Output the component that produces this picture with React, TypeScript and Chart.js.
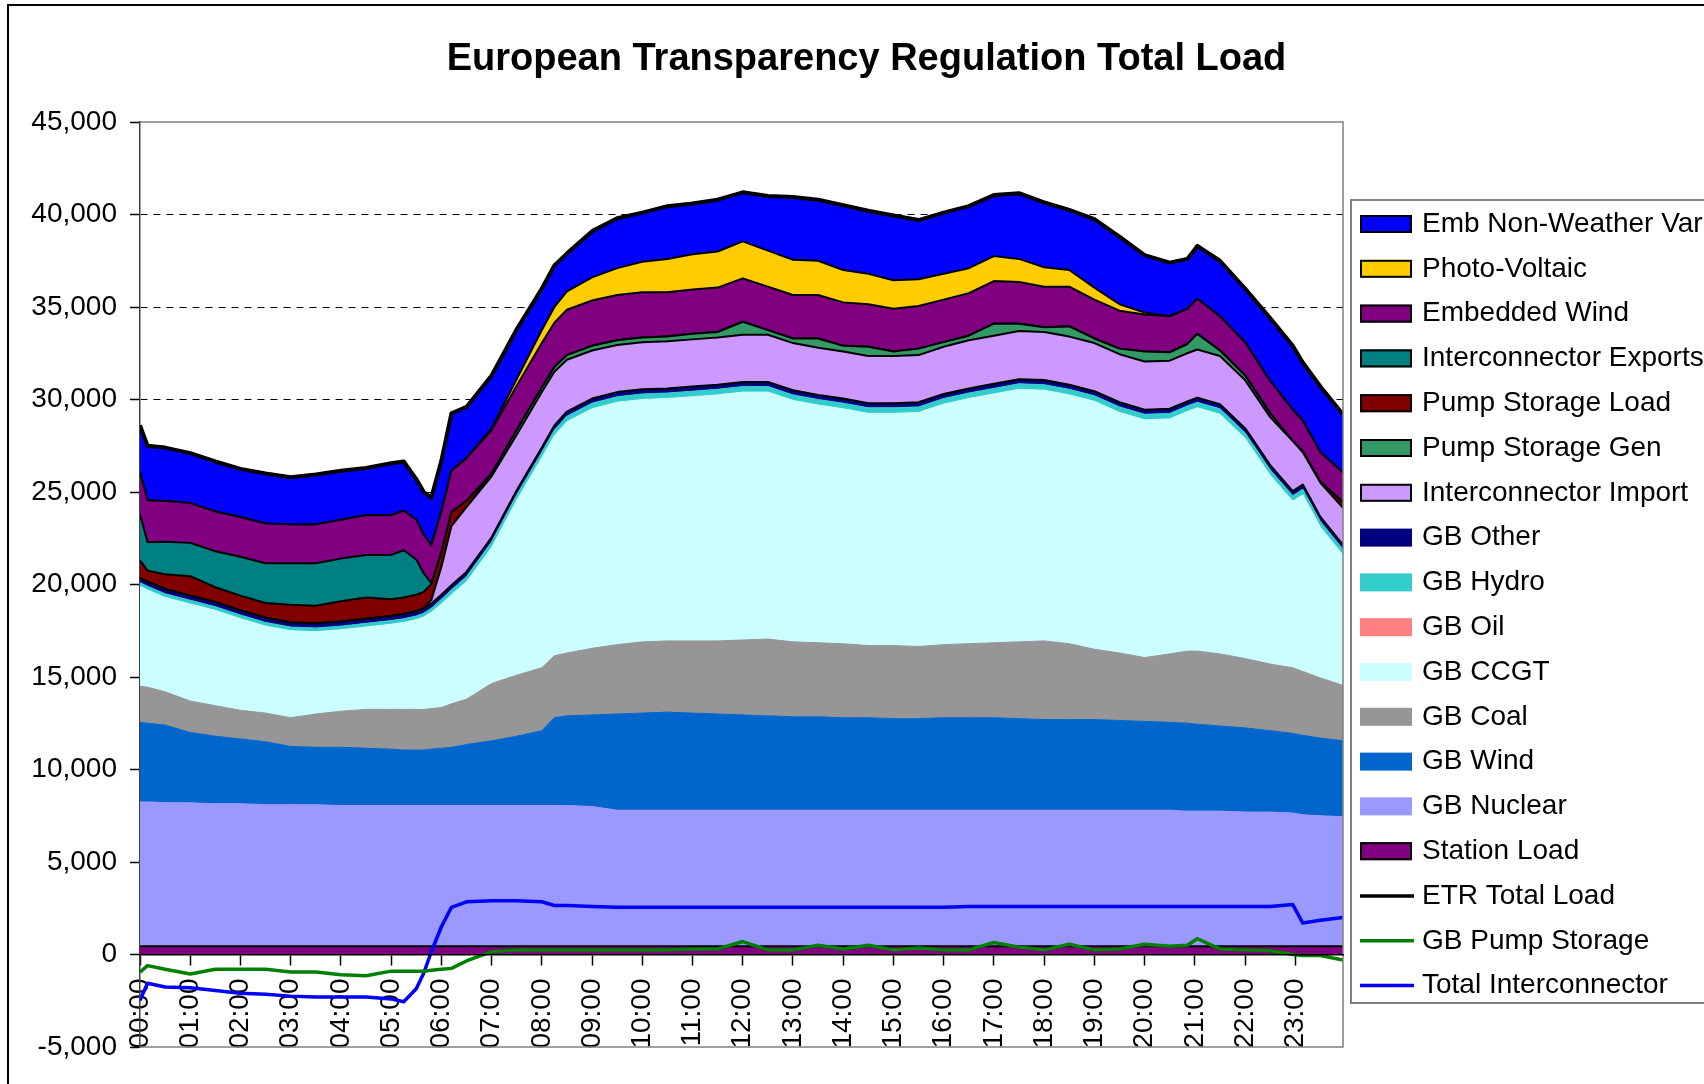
import { useEffect, useRef } from 'react';
import { Chart, registerables } from 'chart.js';

Chart.register(...registerables);

// ---------------- data (MW) ----------------
// time of day in hours
const times = [
  0, 0.15, 0.5, 1, 1.5, 2, 2.5, 3, 3.5, 4,
  4.5, 5, 5.25, 5.5, 5.65, 5.8, 6, 6.2, 6.5, 7,
  7.5, 8, 8.25, 8.5, 9, 9.5, 10, 10.5, 11, 11.5,
  12, 12.5, 13, 13.5, 14, 14.5, 15, 15.5, 16, 16.5,
  17, 17.5, 18, 18.5, 19, 19.5, 20, 20.5, 20.85, 21.05,
  21.5, 22, 22.5, 22.95, 23.15, 23.5, 23.95,
];

const hourTicks = [0, 1, 2, 3, 4, 5, 6, 7, 8, 9, 10, 11, 12, 13, 14, 15, 16, 17, 18, 19, 20, 21, 22, 23];
const hourLabels = [
  '00:00', '01:00', '02:00', '03:00', '04:00', '05:00', '06:00', '07:00',
  '08:00', '09:00', '10:00', '11:00', '12:00', '13:00', '14:00', '15:00',
  '16:00', '17:00', '18:00', '19:00', '20:00', '21:00', '22:00', '23:00',
];

const stationLoad = [
  450, 450, 450, 450, 450, 450, 450, 450, 450, 450,
  450, 450, 450, 450, 450, 450, 450, 450, 450, 450,
  450, 450, 450, 450, 450, 450, 450, 450, 450, 450,
  450, 450, 450, 450, 450, 450, 450, 450, 450, 450,
  450, 450, 450, 450, 450, 450, 450, 450, 450, 450,
  450, 450, 450, 450, 450, 450, 450,
];

// upper edge of the GB Nuclear band
const nuclearTop = [
  8250, 8250, 8200, 8200, 8150, 8150, 8100, 8100, 8100, 8050,
  8050, 8050, 8050, 8050, 8050, 8050, 8050, 8050, 8050, 8050,
  8050, 8050, 8050, 8050, 8000, 7800, 7800, 7800, 7800, 7800,
  7800, 7800, 7800, 7800, 7800, 7800, 7800, 7800, 7800, 7800,
  7800, 7800, 7800, 7800, 7800, 7800, 7800, 7800, 7750, 7750,
  7750, 7700, 7700, 7650, 7550, 7500, 7450,
];

// upper edge of the GB Wind band
const windTop = [
  12550, 12500, 12400, 12000, 11800, 11650, 11500, 11250, 11200, 11200,
  11150, 11100, 11050, 11050, 11050, 11100, 11150, 11200, 11350, 11550,
  11800, 12100, 12800, 12900, 12950, 13000, 13050, 13100, 13050, 13000,
  12950, 12900, 12850, 12850, 12800, 12800, 12750, 12750, 12800, 12800,
  12800, 12750, 12700, 12700, 12700, 12650, 12600, 12550, 12500, 12450,
  12350, 12250, 12100, 11950, 11850, 11700, 11550,
];

// upper edge of the GB Coal band
const coalTop = [
  14500, 14450, 14200, 13700, 13450, 13200, 13050, 12800, 13000, 13150,
  13250, 13250, 13250, 13250, 13250, 13300, 13350, 13550, 13800, 14650,
  15100, 15500, 16150, 16300, 16550, 16750, 16900, 16950, 16950, 16950,
  17000, 17050, 16900, 16850, 16800, 16700, 16700, 16650, 16750, 16800,
  16850, 16900, 16950, 16800, 16500, 16300, 16050, 16250, 16400, 16400,
  16250, 16000, 15700, 15500, 15300, 14950, 14550,
];

// upper edge of the GB CCGT band
const ccgtTop = [
  19900, 19700, 19300, 18950, 18600, 18150, 17750, 17500, 17450, 17550,
  17700, 17850, 17950, 18100, 18250, 18500, 18950, 19450, 20150, 22000,
  24550, 26850, 28050, 28800, 29500, 29850, 30000, 30050, 30150, 30250,
  30400, 30400, 29950, 29700, 29500, 29250, 29250, 29300, 29750, 30050,
  30300, 30550, 30500, 30250, 29900, 29300, 28900, 28950, 29350, 29550,
  29200, 27900, 25900, 24500, 24850, 23100, 21600,
];

const gbOil = [
  0, 0, 0, 0, 0, 0, 0, 0, 0, 0,
  0, 0, 0, 0, 0, 0, 0, 0, 0, 0,
  0, 0, 0, 0, 0, 0, 0, 0, 0, 0,
  0, 0, 0, 0, 0, 0, 0, 0, 0, 0,
  0, 0, 0, 0, 0, 0, 0, 0, 0, 0,
  0, 0, 0, 0, 0, 0, 0,
];

const gbHydro = [
  200, 200, 200, 200, 200, 200, 200, 200, 200, 200,
  200, 200, 200, 200, 200, 220, 250, 260, 280, 300,
  300, 300, 300, 300, 300, 300, 300, 300, 300, 300,
  300, 300, 300, 300, 300, 300, 300, 300, 300, 300,
  300, 300, 300, 300, 300, 300, 300, 300, 300, 300,
  300, 300, 300, 300, 300, 300, 300,
];

const gbOther = [
  250, 250, 250, 250, 250, 250, 250, 250, 250, 250,
  250, 250, 250, 250, 250, 250, 250, 250, 250, 250,
  250, 250, 250, 250, 250, 250, 250, 250, 250, 250,
  250, 250, 250, 250, 250, 250, 250, 250, 250, 250,
  250, 250, 250, 250, 250, 250, 250, 250, 250, 250,
  250, 250, 250, 250, 250, 250, 250,
];

const icImport = [
  0, 0, 0, 0, 0, 0, 0, 0, 0, 0,
  0, 0, 0, 0, 0, 200, 1500, 3200, 3500, 3300,
  3000, 3000, 2900, 2800, 2600, 2550, 2550, 2550, 2550, 2550,
  2550, 2550, 2550, 2550, 2550, 2550, 2550, 2550, 2550, 2600,
  2600, 2600, 2600, 2600, 2600, 2600, 2600, 2600, 2600, 2600,
  2600, 2600, 2600, 2700, 1750, 1850, 2000,
];

const psGen = [
  0, 0, 0, 0, 0, 0, 0, 0, 0, 0,
  0, 0, 0, 0, 0, 0, 0, 0, 0, 150,
  250, 250, 250, 250, 250, 250, 250, 250, 300, 300,
  700, 250, 250, 500, 300, 500, 250, 350, 250, 250,
  650, 400, 250, 550, 250, 300, 550, 450, 500, 850,
  300, 250, 200, 0, 0, 0, 0,
];

const psLoad = [
  950, 600, 800, 1050, 800, 800, 800, 950, 950, 1100,
  1150, 900, 900, 900, 900, 850, 800, 750, 350, 0,
  0, 0, 0, 0, 0, 0, 0, 0, 0, 0,
  0, 0, 0, 0, 0, 0, 0, 0, 0, 0,
  0, 0, 0, 0, 0, 0, 0, 0, 0, 0,
  0, 0, 0, 0, 50, 50, 300,
];

const icExports = [
  2480, 1550, 1760, 1800, 1950, 2100, 2150, 2250, 2300, 2300,
  2300, 2400, 2550, 1900, 1000, 50, 0, 0, 0, 0,
  0, 0, 0, 0, 0, 0, 0, 0, 0, 0,
  0, 0, 0, 0, 0, 0, 0, 0, 0, 0,
  0, 0, 0, 0, 0, 0, 0, 0, 0, 0,
  0, 0, 0, 0, 0, 0, 0,
];

const embWind = [
  2300, 2250, 2200, 2150, 2150, 2150, 2150, 2100, 2100, 2100,
  2150, 2150, 2150, 2150, 2100, 2050, 2200, 2250, 2300, 2350,
  2400, 2400, 2400, 2450, 2450, 2450, 2450, 2400, 2400, 2400,
  2350, 2350, 2350, 2350, 2350, 2300, 2300, 2300, 2300, 2300,
  2300, 2250, 2200, 2150, 2100, 2050, 2000, 1950, 1900, 1900,
  1850, 1800, 1750, 1700, 1650, 1600, 1600,
];

const photoVoltaic = [
  0, 0, 0, 0, 0, 0, 0, 0, 0, 0,
  0, 0, 0, 0, 0, 0, 0, 0, 0, 100,
  350, 700, 850, 1000, 1250, 1450, 1650, 1800, 1900, 1950,
  2000, 1950, 1900, 1850, 1750, 1650, 1550, 1450, 1400, 1350,
  1350, 1250, 1050, 900, 650, 350, 100, 0, 0, 0,
  0, 0, 0, 0, 0, 0, 0,
];

// ETR total load (top of the whole stack)
const etrTotalLoad = [
  28600, 27500, 27400, 27100, 26650, 26250, 26000, 25800, 25950, 26150,
  26300, 26550, 26650, 25700, 25000, 24700, 26700, 29250, 29600, 31300,
  33800, 36000, 37250, 37900, 39100, 39800, 40100, 40450, 40600, 40800,
  41200, 41000, 40950, 40800, 40500, 40200, 39950, 39700, 40100, 40450,
  41050, 41150, 40650, 40250, 39750, 38800, 37800, 37400, 37600, 38300,
  37500, 36000, 34400, 32900, 32000, 30700, 29200,
];

const gbPumpStorage = [
  -950, -600, -800, -1050, -800, -800, -800, -950, -950, -1100,
  -1150, -900, -900, -900, -900, -850, -800, -750, -350, 150,
  250, 250, 250, 250, 250, 250, 250, 250, 300, 300,
  700, 250, 250, 500, 300, 500, 250, 350, 250, 250,
  650, 400, 250, 550, 250, 300, 550, 450, 500, 850,
  300, 250, 200, 0, -50, -50, -300,
];

const totalInterconnector = [
  -2480, -1550, -1760, -1800, -1950, -2100, -2150, -2250, -2300, -2300,
  -2300, -2400, -2550, -1850, -1000, 150, 1500, 2550, 2850, 2900,
  2900, 2850, 2650, 2650, 2600, 2550, 2550, 2550, 2550, 2550,
  2550, 2550, 2550, 2550, 2550, 2550, 2550, 2550, 2550, 2600,
  2600, 2600, 2600, 2600, 2600, 2600, 2600, 2600, 2600, 2600,
  2600, 2600, 2600, 2700, 1700, 1850, 2000,
];

// ---------------- layout (page pixels) ----------------
const PAGE_W = 1704;
const PAGE_H = 1084;
const CANVAS_LEFT = 7;
const CANVAS_TOP = 4;
const CANVAS_W = 1719;
const CANVAS_H = 1100;
const PLOT = { left: 140, right: 1343, top: 122, bottom: 1047 };
const LEGEND = { left: 1351, top: 200, bottom: 1003, firstRow: 224, rowStep: 44.8, swatchX: 1360, swatchW: 52, swatchH: 18, textX: 1422 };
const FONT = '"Liberation Sans", Arial, Helvetica, sans-serif';

const legendOrder = [14, 13, 12, 11, 10, 9, 8, 7, 6, 5, 4, 3, 2, 1, 0, 15, 16, 17];

const decorPlugin = {
  id: 'decor',
  afterLayout(chart: any) {
    // centre the title across the whole chart (legend side included)
    const t = chart.titleBlock;
    if (t) {
      t.left = 0;
      t.right = chart.width;
      t.width = chart.width;
    }
  },
  beforeDraw(chart: any) {
    const { ctx, width, height } = chart;
    ctx.save();
    ctx.fillStyle = '#ffffff';
    ctx.fillRect(0, 0, width, height);
    ctx.restore();
  },
  afterDatasetsDraw(chart: any) {
    const { ctx, chartArea: a } = chart;
    ctx.save();
    ctx.strokeStyle = '#808080';
    ctx.lineWidth = 1.5;
    ctx.beginPath();
    ctx.moveTo(a.left, a.top);
    ctx.lineTo(a.right, a.top);
    ctx.lineTo(a.right, a.bottom);
    ctx.lineTo(a.left, a.bottom);
    ctx.stroke();
    ctx.restore();
  },
  afterDraw(chart: any) {
    const { ctx, width, height } = chart;
    ctx.save();
    // outer chart border
    ctx.strokeStyle = '#000000';
    ctx.lineWidth = 2;
    ctx.strokeRect(1, 1, width - 2, height - 2);

    // legend box
    const lx = LEGEND.left - CANVAS_LEFT;
    const ly = LEGEND.top - CANVAS_TOP;
    const lh = LEGEND.bottom - LEGEND.top;
    const lw = width - 4 - lx;
    ctx.fillStyle = '#ffffff';
    ctx.fillRect(lx, ly, lw, lh);
    ctx.strokeStyle = '#808080';
    ctx.lineWidth = 2;
    ctx.strokeRect(lx, ly, lw, lh);

    ctx.font = `28px ${FONT}`;
    ctx.textBaseline = 'middle';
    ctx.textAlign = 'left';
    legendOrder.forEach((dsIndex, row) => {
      const ds = chart.data.datasets[dsIndex];
      const cy = LEGEND.firstRow - CANVAS_TOP + row * LEGEND.rowStep;
      const sx = LEGEND.swatchX - CANVAS_LEFT;
      if (ds.legendKind === 'line') {
        ctx.strokeStyle = ds.borderColor;
        ctx.lineWidth = 3.5;
        ctx.beginPath();
        ctx.moveTo(sx, cy);
        ctx.lineTo(sx + LEGEND.swatchW + 2, cy);
        ctx.stroke();
      } else {
        ctx.fillStyle = ds.backgroundColor;
        ctx.fillRect(sx, cy - LEGEND.swatchH / 2, LEGEND.swatchW, LEGEND.swatchH);
        if (ds.legendOutline) {
          ctx.strokeStyle = '#000000';
          ctx.lineWidth = 2;
          ctx.strokeRect(sx + 1, cy - LEGEND.swatchH / 2 + 1, LEGEND.swatchW - 2, LEGEND.swatchH - 2);
        }
      }
      ctx.fillStyle = '#000000';
      ctx.fillText(ds.label, LEGEND.textX - CANVAS_LEFT, cy);
    });
    ctx.restore();
  },
};

export default function App() {
  const ref = useRef<HTMLCanvasElement | null>(null);

  useEffect(() => {
    const canvas = ref.current;
    if (!canvas) return;

    const pts = (arr: number[]) => times.map((t, i) => ({ x: t, y: arr[i] }));

    const area = (
      label: string,
      arr: number[],
      color: string,
      stack: string,
      fill: any,
      lineColor: string,
      lineWidth: number,
      outline: boolean,
    ) => ({
      type: 'line',
      label,
      data: pts(arr),
      stack,
      fill,
      backgroundColor: color,
      borderColor: lineColor,
      borderWidth: lineWidth,
      borderJoinStyle: 'round',
      pointRadius: 0,
      pointHoverRadius: 0,
      tension: 0,
      order: 0,
      legendKind: 'box',
      legendOutline: outline,
    });

    const line = (label: string, arr: number[], color: string, stack: string, width: number) => ({
      type: 'line',
      label,
      data: pts(arr),
      stack,
      fill: false,
      backgroundColor: color,
      borderColor: color,
      borderWidth: width,
      borderJoinStyle: 'round',
      pointRadius: 0,
      pointHoverRadius: 0,
      tension: 0,
      order: -1,
      legendKind: 'line',
    });

    const datasets: any[] = [
      area('Station Load', stationLoad, '#800080', 'station', 'origin', '#000000', 2, true),
      area('GB Nuclear', nuclearTop, '#9999FF', 'nuclear', '-1', '#9999FF', 1, false),
      area('GB Wind', windTop, '#0066CC', 'wind', '-1', '#0066CC', 1, false),
      area('GB Coal', coalTop, '#969696', 'coal', '-1', '#969696', 1, false),
      area('GB CCGT', ccgtTop, '#CCFFFF', 'upper', '-1', '#CCFFFF', 1, false),
      area('GB Oil', gbOil, '#FF8080', 'upper', '-1', 'rgba(0,0,0,0)', 1, false),
      area('GB Hydro', gbHydro, '#33CCCC', 'upper', '-1', '#33CCCC', 1, false),
      area('GB Other', gbOther, '#000080', 'upper', '-1', '#000000', 2, false),
      area('Interconnector Import', icImport, '#CC99FF', 'upper', '-1', '#000000', 2, true),
      area('Pump Storage Gen', psGen, '#339966', 'upper', '-1', '#000000', 2, true),
      area('Pump Storage Load', psLoad, '#800000', 'upper', '-1', '#000000', 2, true),
      area('Interconnector Exports', icExports, '#008080', 'upper', '-1', '#000000', 2, true),
      area('Embedded Wind', embWind, '#800080', 'upper', '-1', '#000000', 2, true),
      area('Photo-Voltaic', photoVoltaic, '#FFCC00', 'upper', '-1', '#000000', 2, true),
      area('Emb Non-Weather Var', etrTotalLoad, '#0000FF', 'embedded', '-1', '#000000', 2, true),
      line('ETR Total Load', etrTotalLoad, '#000000', 'etr', 4),
      line('GB Pump Storage', gbPumpStorage, '#008000', 'ps', 3.5),
      line('Total Interconnector', totalInterconnector, '#0000FF', 'ic', 3.5),
    ];

    const chart = new Chart(canvas, {
      type: 'line',
      data: { datasets },
      plugins: [decorPlugin],
      options: {
        animation: false,
        responsive: false,
        maintainAspectRatio: false,
        devicePixelRatio: 1,
        events: [],
        layout: {
          padding: {
            left: 0,
            top: 0,
            right: CANVAS_W - (PLOT.right - CANVAS_LEFT),
            bottom: CANVAS_H - (PLOT.bottom - CANVAS_TOP),
          },
        },
        plugins: {
          legend: { display: false },
          tooltip: { enabled: false },
          title: {
            display: true,
            text: 'European Transparency Regulation Total Load',
            color: '#000000',
            font: { family: FONT, size: 38, weight: 'bold' },
            padding: { top: 33.2, bottom: 39.2 },
          },
          filler: { propagate: false },
        },
        scales: {
          x: {
            type: 'linear',
            min: 0,
            max: 23.95,
            position: { y: 0 },
            afterBuildTicks: (scale: any) => {
              scale.ticks = hourTicks.map((v) => ({ value: v }));
            },
            afterFit: (scale: any) => {
              scale.height = 0;
              scale.paddingLeft = 0;
              scale.paddingRight = 0;
              scale.paddingTop = 0;
              scale.paddingBottom = 0;
            },
            ticks: {
              autoSkip: false,
              minRotation: 90,
              maxRotation: 90,
              padding: 14,
              color: '#000000',
              font: { family: FONT, size: 28 },
              callback: (_v: any, index: number) => hourLabels[index] ?? '',
            },
            grid: {
              display: true,
              drawOnChartArea: false,
              drawTicks: true,
              tickLength: 10,
              tickColor: '#000000',
              tickWidth: 1.5,
            },
            border: { display: true, color: '#000000', width: 1.5, z: 1 },
          },
          y: {
            type: 'linear',
            stacked: true,
            min: -5000,
            max: 45000,
            afterFit: (scale: any) => {
              scale.width = PLOT.left - CANVAS_LEFT;
              scale.paddingTop = 0;
              scale.paddingBottom = 0;
            },
            ticks: {
              stepSize: 5000,
              padding: 13,
              color: '#000000',
              font: { family: FONT, size: 28 },
              callback: (v: any) => Number(v).toLocaleString('en-US'),
            },
            grid: {
              display: true,
              drawOnChartArea: true,
              drawTicks: true,
              tickLength: 10,
              tickColor: '#000000',
              tickWidth: 1.5,
              lineWidth: 1,
              color: (ctx: any) =>
                ctx.tick && (ctx.tick.value === -5000 || ctx.tick.value === 45000)
                  ? 'rgba(0,0,0,0)'
                  : '#000000',
            },
            border: { display: true, color: '#404040', width: 1.5, dash: [7, 6] },
          },
        },
      } as any,
    } as any);

    return () => chart.destroy();
  }, []);

  return (
    <div
      style={{
        position: 'fixed',
        left: 0,
        top: 0,
        width: PAGE_W,
        height: PAGE_H,
        overflow: 'hidden',
        background: '#ffffff',
      }}
    >
      <canvas
        ref={ref}
        width={CANVAS_W}
        height={CANVAS_H}
        style={{ position: 'absolute', left: CANVAS_LEFT, top: CANVAS_TOP, width: CANVAS_W, height: CANVAS_H }}
      />
    </div>
  );
}
